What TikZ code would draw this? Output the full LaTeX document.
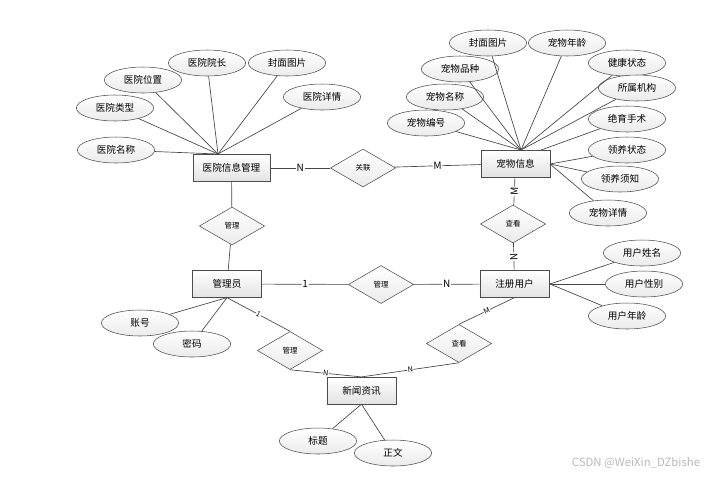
\documentclass[tikz,border=0pt]{standalone}
\usepackage{fontspec}
\setmainfont{Noto Sans CJK SC}
\usetikzlibrary{shapes.geometric}

\begin{document}
\begin{tikzpicture}
		[
		x=0.75pt, y=-0.75pt,
		every node/.style={font=\fontsize{7.2}{8}\selectfont, text=black},
		entity/.style={rectangle, draw=gray!60!black, top color=white, bottom color=gray!22, minimum width=52pt, minimum height=20pt, inner sep=1pt},
		attr/.style={ellipse, draw=gray!60!black, top color=white, bottom color=gray!16, minimum width=58pt, minimum height=19.5pt, inner sep=0pt},
		rel/.style={diamond, draw=gray!60!black, top color=white, bottom color=gray!16, minimum width=49pt, minimum height=28.5pt, inner sep=0pt, font=\fontsize{5.6}{6}\selectfont},
		card/.style={fill=white, inner sep=0.5pt, sloped, font=\fontsize{7.5}{8}\selectfont},
		cardsm/.style={fill=white, inner sep=0.3pt, sloped, font=\fontsize{5.5}{6}\selectfont},
		link/.style={draw=gray!55!black, line width=0.5pt}
		]
		\useasboundingbox (0,0) rectangle (723,476);
		% entities
		\node[entity, minimum width=58pt] (yy) at (231.5,168) {医院信息管理};
		\node[entity] (cw) at (515.5,163.5) {宠物信息};
		\node[entity] (gly) at (227,284) {管理员};
		\node[entity] (zc) at (514.5,284) {注册用户};
		\node[entity] (xw) at (361.5,390.5) {新闻资讯};
		% relations
		\node[rel] (glian) at (363,168) {关联};
		\node[rel] (glA) at (232,226) {管理};
		\node[rel] (glB) at (381,284.5) {管理};
		\node[rel] (glC) at (290,350.5) {管理};
		\node[rel] (ckA) at (513,224) {查看};
		\node[rel] (ckB) at (459,343.5) {查看};
		% attributes
		\node[attr] (yymc) at (116,150) {医院名称};
		\node[attr] (yylx) at (115,108) {医院类型};
		\node[attr] (yywz) at (143,80) {医院位置};
		\node[attr] (yyyz) at (207,63) {医院院长};
		\node[attr] (yyfm) at (287,63) {封面图片};
		\node[attr] (yyxq) at (322,97) {医院详情};
		\node[attr] (cwfm) at (488,43) {封面图片};
		\node[attr] (cwnl) at (567,43) {宠物年龄};
		\node[attr] (cwpz) at (460,69) {宠物品种};
		\node[attr] (cwjk) at (627,63) {健康状态};
		\node[attr] (cwmc) at (445,97) {宠物名称};
		\node[attr] (cwjg) at (637,88) {所属机构};
		\node[attr] (cwbh) at (426,123) {宠物编号};
		\node[attr] (cwjy) at (627,119) {绝育手术};
		\node[attr] (cwly) at (627,150) {领养状态};
		\node[attr] (cwxz) at (620,179) {领养须知};
		\node[attr] (cwxq) at (608,213) {宠物详情};
		\node[attr] (yhxm) at (642,253) {用户姓名};
		\node[attr] (yhxb) at (644,284) {用户性别};
		\node[attr] (yhnl) at (627,316) {用户年龄};
		\node[attr] (zh) at (140,323) {账号};
		\node[attr] (mm) at (192,344) {密码};
		\node[attr] (bt) at (318,441) {标题};
		\node[attr] (zw) at (393,453) {正文};
		% meeting points of the attribute lines
		\coordinate (yytop) at (218,154);
		\coordinate (cwtop) at (521,150);
		\coordinate (cwtr) at (541,150);
		\coordinate (cwr) at (550,164);
		\coordinate (zcr) at (550,284);
		\foreach \a in {yymc,yylx,yywz,yyyz,yyfm,yyxq}
			\draw[link] (\a) -- (yytop);
		\foreach \a in {cwfm,cwnl,cwpz,cwjk,cwmc,cwbh}
			\draw[link] (\a) -- (cwtop);
		\draw[link] (cwjg) -- (cwtop);
		\draw[link] (cwjy) -- (cwtr);
		\foreach \a in {cwly,cwxz,cwxq}
			\draw[link] (\a) -- (cwr);
		\foreach \a in {yhxm,yhxb,yhnl}
			\draw[link] (\a) -- (zcr);
		\foreach \a in {zh,mm}
			\draw[link] (\a) -- (gly.south);
		\foreach \a in {bt,zw}
			\draw[link] (\a) -- (xw.south);
		% relation lines
		\draw[link] (yy) -- node[card] {N} (glian);
		\draw[link] (glian) -- node[card] {M} (cw);
		\draw[link] (yy) -- (glA);
		\draw[link] (glA) -- (gly);
		\draw[link] (gly) -- node[card] {1} (glB);
		\draw[link] (glB) -- node[card] {N} (zc);
		\draw[link] (cw) -- node[card] {M} (ckA);
		\draw[link] (ckA) -- node[card] {N} (zc);
		\draw[link] (gly.south) -- node[cardsm] {1} (glC.north);
		\draw[link] (glC.south) -- node[cardsm] {N} (xw.north);
		\draw[link] (zc.south) -- node[cardsm] {M} (ckB.north);
		\draw[link] (ckB.south) -- node[cardsm] {N} (xw.north);
		\node[text=gray!55, font=\fontsize{8.5}{9}\selectfont] (wm) at (636,463) {CSDN @WeiXin\_DZbishe};
\end{tikzpicture}
\end{document}
